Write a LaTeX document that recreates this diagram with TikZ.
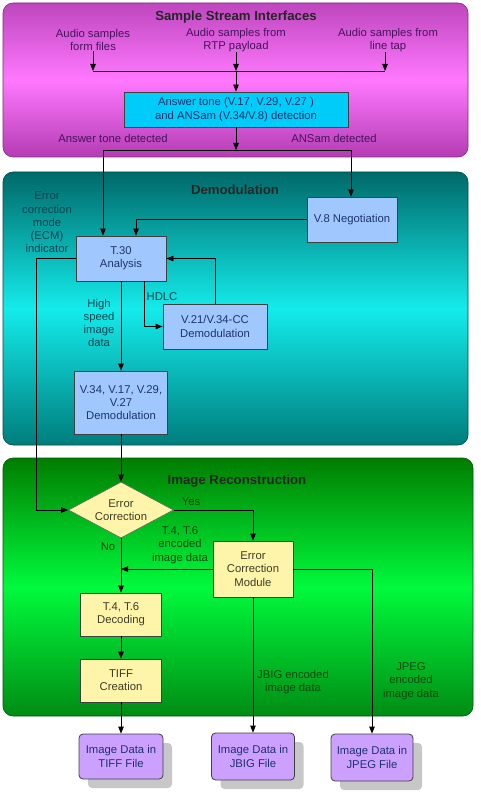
\documentclass[tikz,border=0pt]{standalone}
\usepackage{fontspec}
\setmainfont{Liberation Sans}
\usetikzlibrary{arrows.meta,shapes.geometric,shadows}
\definecolor{mA}{RGB}{190,70,190}
\definecolor{mB}{RGB}{255,120,255}
\definecolor{mC}{RGB}{180,60,180}
\definecolor{cA}{RGB}{0,105,105}
\definecolor{cB}{RGB}{20,235,235}
\definecolor{cC}{RGB}{0,125,125}
\definecolor{gA}{RGB}{0,125,0}
\definecolor{gB}{RGB}{0,250,60}
\definecolor{gC}{RGB}{0,140,20}
\definecolor{anscol}{RGB}{0,204,250}
\definecolor{bluebox}{RGB}{160,200,255}
\definecolor{yellowbox}{RGB}{255,245,170}
\definecolor{outbox}{RGB}{204,160,255}
\definecolor{navy}{RGB}{30,50,110}
\definecolor{ptext}{RGB}{70,20,90}
\definecolor{ctext}{RGB}{10,70,80}
\definecolor{gtext}{RGB}{10,75,15}
\definecolor{ytext}{RGB}{60,60,40}
\begin{document}
\begin{tikzpicture}[x=1pt,y=-1pt,
  every node/.style={font=\fontsize{11.3}{13.3}\selectfont},
  panel/.style={rectangle, rounded corners=10pt, line width=0.6pt},
  title/.style={font=\bfseries\fontsize{13.2}{15}\selectfont, text=black!85},
  box/.style={rectangle, draw=black!75, line width=0.8pt, align=center, inner sep=2pt},
  lbl/.style={align=center, inner sep=0pt},
  arr/.style={-{Triangle[length=7pt,width=5.5pt]}, line width=0.8pt},
  ln/.style={line width=0.8pt},
  outnode/.style={box, rounded corners=4pt, fill=outbox, text=navy,
    drop shadow={shadow xshift=9pt, shadow yshift=-9pt, fill=black!22, opacity=1}}
]
\useasboundingbox (0,0) rectangle (480,802);
% panels
\node[panel, draw=mC!70!black, top color=mA, bottom color=mC, middle color=mB,
  minimum width=465pt, minimum height=154pt] (p1) at (235.5,80) {};
\node[panel, draw=cC!60!black, top color=cA, bottom color=cC, middle color=cB,
  minimum width=465pt, minimum height=273pt] (p2) at (235.5,308.5) {};
\node[panel, draw=gC!60!black, top color=gA, bottom color=gC, middle color=gB,
  minimum width=470pt, minimum height=258pt] (p3) at (238,587) {};
% titles
\node[title] (t1) at (236,17) {Sample Stream Interfaces};
\node[title] (t2) at (235,190) {Demodulation};
\node[title] (t3) at (237,481) {Image Reconstruction};
% inputs
\node[lbl, text=ptext] (in1) at (93,40) {Audio samples\\form files};
\node[lbl, text=ptext] (in2) at (236,40) {Audio samples from\\RTP payload};
\node[lbl, text=ptext] (in3) at (388,40) {Audio samples from\\line tap};
\coordinate (j1) at (93,71);
\coordinate (j2) at (236,71);
\coordinate (j3) at (385,71);
\draw[arr] (in1.south) -- (j1);
\draw[arr] (in2.south) -- (j2);
\draw[arr] (in3.south -| j3) -- (j3);
\draw[ln] (j1) -- (j3);
\node[box, fill=anscol, text=navy, minimum width=224pt, minimum height=35pt] (ans) at (236,109.5)
  {Answer tone (V.17, V.29, V.27 )\\and ANSam (V.34/V.8) detection};
\draw[arr] (j2) -- (ans.north);
\coordinate (s) at (236,150);
\coordinate (sl) at (103,150);
\coordinate (sr) at (351,150);
\draw[arr] (ans.south) -- (s);
\draw[ln] (sl) -- (sr);
\node[lbl, text=ptext] (la1) at (113,138) {Answer tone detected};
\node[lbl, text=ptext] (la2) at (334,138) {ANSam detected};
% demodulation
\node[box, fill=bluebox, text=navy, minimum width=90pt, minimum height=45pt] (v8) at (352,219.5) {V.8 Negotiation};
\node[box, fill=bluebox, text=navy, minimum width=90pt, minimum height=45pt] (t30) at (121,258.5) {T.30\\Analysis};
\node[box, fill=bluebox, text=navy, minimum width=104pt, minimum height=45pt] (v21) at (215,326.5) {V.21/V.34-CC\\Demodulation};
\node[box, fill=bluebox, text=navy, minimum width=93pt, minimum height=63pt] (v34) at (121,402.5) {V.34, V.17, V.29,\\V.27\\Demodulation};
\draw[arr] (sl) -- (t30.north -| sl);
\draw[arr] (sr) -- (v8.north -| sr);
\draw[arr] (v8.west) -| ([xshift=15pt]t30.north);
\node[lbl, text=ctext] (ecml) at (47,222.5) {Error\\correction\\mode\\(ECM)\\indicator};
\draw[arr] ([xshift=23pt]t30.south) |- (v21.west);
\draw[arr] (v21.north) |- (t30.east);
\node[lbl, text=ctext] (hdlc) at (162,297) {HDLC};
\draw[arr] (t30.south) -- (v34.north);
\node[lbl, text=ctext] (hs) at (99,323) {High\\speed\\image\\data};
% image reconstruction
\node[diamond, draw=black!60, line width=0.6pt, fill=yellowbox, text=ytext, align=center, inner sep=0pt,
  shape aspect=1.875, minimum width=105pt, minimum height=56pt] (dia) at (121,510) {Error\\Correction};
\draw[arr] (v34.south) -- (dia.north);
\draw[arr] (t30.west) -- ++(-39,0) |- (dia.west);
\node[box, fill=yellowbox, text=ytext, minimum width=80pt, minimum height=56pt] (ecm) at (253,569) {Error\\Correction\\Module};
\node[box, fill=yellowbox, text=ytext, minimum width=81pt, minimum height=43pt] (t4) at (121,614.5) {T.4, T.6\\Decoding};
\node[box, fill=yellowbox, text=ytext, minimum width=81pt, minimum height=43pt] (tiff) at (121,680.5) {TIFF\\Creation};
\draw[arr] (dia.east) -| (ecm.north);
\node[lbl, text=gtext] (yes) at (191,502) {Yes};
\draw[arr] (dia.south) -- (t4.north);
\node[lbl, text=gtext] (no) at (108,547) {No};
\draw[arr] (ecm.west) -- (ecm.west -| dia.south);
\node[lbl, text=gtext] (t46) at (180,545) {T.4, T.6\\encoded\\image data};
\draw[arr] (t4.south) -- (tiff.north);
% outputs
\node[outnode, minimum width=84pt, minimum height=45pt] (o1) at (121,756.5) {Image Data in\\TIFF File};
\node[outnode, minimum width=83pt, minimum height=47pt] (o2) at (253,756.5) {Image Data in\\JBIG File};
\node[outnode, minimum width=82pt, minimum height=47pt] (o3) at (372,757.5) {Image Data in\\JPEG File};
\draw[arr] (tiff.south) -- (o1.north);
\draw[arr] (ecm.south) -- (o2.north);
\draw[arr] (ecm.east) -| (o3.north);
\node[lbl, text=gtext] (jbig) at (293,682) {JBIG encoded\\image data};
\node[lbl, text=gtext] (jpeg) at (411,681) {JPEG\\encoded\\image data};
\end{tikzpicture}
\end{document}
